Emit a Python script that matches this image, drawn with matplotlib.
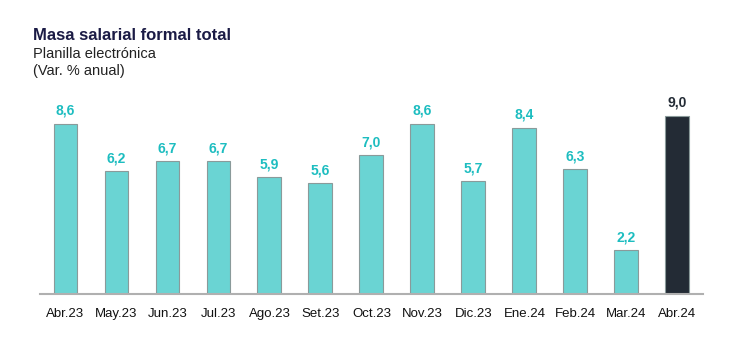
import matplotlib
matplotlib.use('Agg')
import matplotlib.pyplot as plt

plt.rcParams['font.family'] = ['Liberation Sans', 'DejaVu Sans']

meses = ['Abr.23', 'May.23', 'Jun.23', 'Jul.23', 'Ago.23', 'Set.23', 'Oct.23',
         'Nov.23', 'Dic.23', 'Ene.24', 'Feb.24', 'Mar.24', 'Abr.24']
valores = [8.6, 6.2, 6.7, 6.7, 5.9, 5.6, 7.0, 8.6, 5.7, 8.4, 6.3, 2.2, 9.0]

teal = '#6AD4D3'
dark = '#232B35'
label_teal = '#1DBDC0'

fig = plt.figure(figsize=(7.55, 3.53), dpi=100)
ax = fig.add_axes([0.053, 0.167, 0.878, 0.55])

colores = [teal] * (len(valores) - 1) + [dark]
x = list(range(len(valores)))
ax.bar(x, valores, width=0.47, color=colores, edgecolor='#8A9A9A', linewidth=0.8, zorder=2)

for i, v in enumerate(valores):
    c = dark if i == len(valores) - 1 else label_teal
    ax.text(i, v + 0.3, f'{v:.1f}'.replace('.', ','), ha='center', va='bottom',
            fontsize=10, fontweight='bold', color=c)

ax.set_xlim(-0.5, len(valores) - 0.5)
ax.set_ylim(0, 9.8)
ax.set_xticks(x)
ax.set_xticklabels(meses, fontsize=9.5, color='#111111')
ax.tick_params(axis='x', length=0, pad=10)
ax.set_yticks([])
for s in ['top', 'right', 'left']:
    ax.spines[s].set_visible(False)
ax.spines['bottom'].set_color('#B0B0B0')
ax.spines['bottom'].set_linewidth(1.5)

fig.text(33 / 755, 1 - 40 / 353, 'Masa salarial formal total', fontsize=12,
         fontweight='bold', color='#1B1B45', va='baseline')
fig.text(33 / 755, 1 - 58 / 353, 'Planilla electrónica', fontsize=10.5,
         color='#222222', va='baseline')
fig.text(33 / 755, 1 - 75 / 353, '(Var. % anual)', fontsize=10.5,
         color='#222222', va='baseline')

fig.savefig('out.png', dpi=100)
